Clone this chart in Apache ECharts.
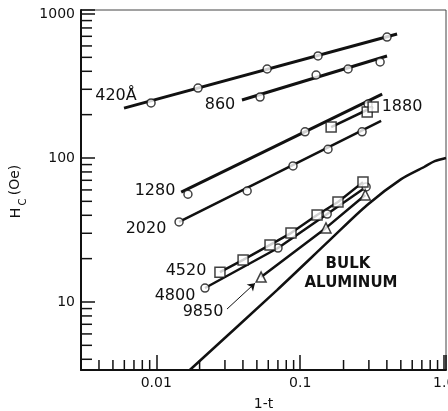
<!DOCTYPE html>
<html>
<head>
    <meta charset="utf-8">
    <title>Hc vs 1-t</title>
    <script src="https://cdn.jsdelivr.net/npm/echarts/dist/echarts.min.js"></script>
    <style>
        html, body { margin: 0; padding: 0; background: #fff; }
        #chart { width: 448px; height: 411px; }
    </style>
</head>
<body>
<div id="chart"></div>
<script type="text/javascript">
    // axis extents
    var xMin = 0.003, xMax = 1.03;
    var yMin = 3.37, yMax = 1066;

    // major tick labels
    var xMajor = [0.01, 0.1, 1];
    var xMajorLabels = ['0.01', '0.1', '1.0'];
    var yMajor = [10, 100, 1000];
    var yMajorLabels = ['10', '100', '1000'];

    // minor ticks
    var xMinor = [0.004, 0.005, 0.006, 0.007, 0.008, 0.009,
        0.02, 0.03, 0.04, 0.05, 0.06, 0.07, 0.08, 0.09,
        0.2, 0.3, 0.4, 0.5, 0.6, 0.7, 0.8, 0.9];
    var yMinor = [4, 5, 6, 7, 8, 9,
        20, 30, 40, 50, 60, 70, 80, 90,
        200, 300, 400, 500, 600, 700, 800, 900];

    // measured points [1-t, Hc]
    var d420 = [[0.0092, 241], [0.0195, 306], [0.0589, 415], [0.133, 511], [0.401, 692]];
    var fit420 = [[0.00597, 222], [0.471, 726]];
    var d860 = [[0.0526, 265], [0.129, 377], [0.215, 415], [0.359, 464]];
    var fit860 = [[0.0394, 253], [0.401, 511]];
    var d1280 = [[0.0166, 56], [0.108, 152], [0.296, 237]];
    var fit1280 = [[0.0149, 58], [0.371, 278]];
    var d1880 = [[0.164, 164], [0.292, 209], [0.321, 226]];
    var fit1880 = [[0.164, 164], [0.321, 226]];
    var d2020 = [[0.0144, 36], [0.0428, 59], [0.0891, 88], [0.156, 115], [0.269, 152]];
    var fit2020 = [[0.0144, 36], [0.365, 181]];
    var d4520 = [[0.0277, 16.1], [0.0401, 19.6], [0.0617, 24.9], [0.0863, 30.1], [0.131, 40.2], [0.183, 49.5], [0.273, 68]];
    var d4800 = [[0.0218, 12.5], [0.0701, 23.7], [0.154, 40.8], [0.287, 62.9]];
    var d9850 = [[0.0535, 14.9], [0.151, 32.7], [0.283, 55.4]];
    var arrow9850 = [[0.031, 8.93], [0.0485, 13.5]];
    var bulk = [[0.0171, 3.37], [0.069, 12.1], [0.161, 27], [0.292, 47.2], [0.50, 71], [0.726, 86.6], [0.86, 95], [1.03, 100]];

    var ink = '#111';
    var font = 'DejaVu Sans';

    function pick(v, vals, labels) {
        for (var i = 0; i < vals.length; i++) {
            if (Math.abs(Math.log10(v) - Math.log10(vals[i])) < 1e-6) return labels[i];
        }
        return '';
    }

    function fitLine(data, w) {
        return {type: 'line', data: data, symbol: 'none', silent: true,
            lineStyle: {color: ink, width: w}, z: 2};
    }

    function marks(data, symbol, size) {
        return {type: 'scatter', data: data, symbol: symbol, symbolSize: size, silent: true,
            itemStyle: {color: '#fff', borderColor: ink, borderWidth: 1.5}, z: 4};
    }

    function label(text, x, y, bold) {
        return {type: 'text', x: x, y: y, z: 10,
            style: {text: text, fill: ink, align: 'center', verticalAlign: 'middle',
                font: (bold ? 'bold 15px ' : '16px ') + font}};
    }

    var myChart = echarts.init(document.getElementById('chart'));

    myChart.setOption({
        animation: false,
        backgroundColor: '#fff',
        grid: {left: 81, right: 2, top: 10, bottom: 41, show: true,
            containLabel: false, outerBoundsMode: 'none',
            borderColor: '#444', borderWidth: 1},
        xAxis: {
            type: 'log', logBase: 10, min: xMin, max: xMax,
            name: '1-t', nameLocation: 'middle', nameGap: 27,
            nameTextStyle: {color: ink, fontSize: 14, fontFamily: font},
            axisLine: {lineStyle: {color: ink, width: 2}},
            axisTick: {inside: true, length: 15, lineStyle: {color: ink, width: 1.5}},
            splitLine: {show: false},
            axisLabel: {color: ink, fontSize: 14, fontFamily: font, margin: 6, hideOverlap: false,
                formatter: function (v) { return pick(v, xMajor, xMajorLabels); }}
        },
        yAxis: {
            type: 'log', logBase: 10, min: yMin, max: yMax,
            axisLine: {lineStyle: {color: ink, width: 2}},
            axisTick: {inside: true, length: 14, lineStyle: {color: ink, width: 1.5}},
            splitLine: {show: false},
            axisLabel: {color: ink, fontSize: 14, fontFamily: font, margin: 6,
                formatter: function (v) { return pick(v, yMajor, yMajorLabels); }}
        },
        graphic: [
            label('420Å', 116, 96),
            label('860', 220, 105),
            label('1880', 402, 107),
            label('1280', 155, 191),
            label('2020', 146, 229),
            label('4520', 186, 271),
            label('4800', 175, 296),
            label('9850', 203, 312),
            label('BULK', 348, 264, true),
            label('ALUMINUM', 351, 283, true),
            {type: 'text', x: 15, y: 180, rotation: Math.PI / 2, z: 10,
                style: {text: '(Oe)', fill: ink, align: 'center', verticalAlign: 'middle', font: '14px ' + font}},
            {type: 'text', x: 23, y: 202, rotation: Math.PI / 2, z: 10,
                style: {text: 'C', fill: ink, align: 'center', verticalAlign: 'middle', font: '10px ' + font}},
            {type: 'text', x: 16, y: 213, rotation: Math.PI / 2, z: 10,
                style: {text: 'H', fill: ink, align: 'center', verticalAlign: 'middle', font: '14px ' + font}}
        ],
        series: [
            // minor ticks on the bottom axis
            {type: 'custom', silent: true, clip: false, z: 5,
                data: xMinor.map(function (v) { return [v, yMin]; }),
                renderItem: function (params, api) {
                    var p = api.coord([api.value(0), api.value(1)]);
                    return {type: 'line', shape: {x1: p[0], y1: p[1], x2: p[0], y2: p[1] - 10},
                        style: {stroke: ink, lineWidth: 1.5}};
                }},
            // minor ticks on the left axis
            {type: 'custom', silent: true, clip: false, z: 5,
                data: yMinor.map(function (v) { return [xMin, v]; }),
                renderItem: function (params, api) {
                    var p = api.coord([api.value(0), api.value(1)]);
                    return {type: 'line', shape: {x1: p[0], y1: p[1], x2: p[0] + 11, y2: p[1]},
                        style: {stroke: ink, lineWidth: 1.5}};
                }},
            fitLine(fit420, 3),
            fitLine(fit860, 3),
            fitLine(fit1280, 3),
            fitLine(fit1880, 2.5),
            fitLine(fit2020, 2.5),
            fitLine(d4520, 2.5),
            fitLine(d4800, 2.5),
            fitLine(d9850, 2.5),
            {type: 'line', data: bulk, symbol: 'none', smooth: 0.3, silent: true,
                lineStyle: {color: ink, width: 2.5}, z: 2},
            {type: 'line', data: [], silent: true,
                markLine: {silent: true, symbol: ['none', 'arrow'], symbolSize: 7, label: {show: false},
                    lineStyle: {color: ink, width: 1, type: 'solid'},
                    data: [[{coord: arrow9850[0]}, {coord: arrow9850[1]}]]}},
            marks(d420, 'circle', 8),
            marks(d860, 'circle', 8),
            marks(d1280, 'circle', 8),
            marks(d2020, 'circle', 8),
            marks(d4800, 'circle', 8),
            marks(d1880, 'rect', 10),
            marks(d4520, 'rect', 10),
            marks(d9850, 'triangle', 10)
        ]
    });
</script>
</body>
</html>
